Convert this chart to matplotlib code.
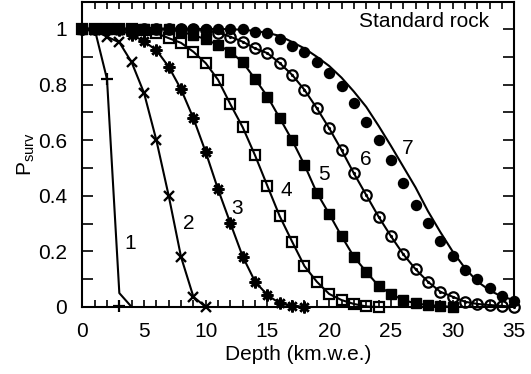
import numpy as np
import matplotlib
matplotlib.use("Agg")
import matplotlib.pyplot as plt

plt.rcParams['font.family'] = ['Liberation Sans', 'DejaVu Sans']
plt.rcParams['mathtext.fontset'] = 'custom'
plt.rcParams['mathtext.rm'] = 'Liberation Sans'

# ---- data (depth in km.w.e., survival probability) ----
d1 = [0, 1, 2, 3]
p1 = [1.0, 1.0, 0.82, 0.005]
d1_line = [0, 1, 2, 3, 4]
p1_line = [1.0, 1.0, 0.82, 0.05, 0.0]

d2 = list(range(0, 11))
p2 = [1.0, 0.995, 0.972, 0.952, 0.88, 0.77, 0.60, 0.40, 0.18, 0.037, 0.0]

d3 = list(range(0, 19))
p3 = [1.0, 1.0, 1.0, 0.995, 0.98, 0.955, 0.924, 0.864, 0.783, 0.679,
      0.557, 0.423, 0.301, 0.181, 0.091, 0.043, 0.013, 0.004, 0.001]

d4 = list(range(0, 25))
p4 = [1.0, 1.0, 1.0, 1.0, 1.0, 0.995, 0.985, 0.967, 0.95, 0.918,
      0.877, 0.817, 0.729, 0.646, 0.545, 0.435, 0.326, 0.235, 0.147, 0.091,
      0.047, 0.025, 0.011, 0.002, 0.0]

d5 = list(range(0, 31))
p5 = [1.0, 1.0, 1.0, 1.0, 1.0, 1.0, 1.0, 1.0, 0.99, 0.978,
      0.963, 0.942, 0.918, 0.88, 0.82, 0.757, 0.679, 0.60, 0.511, 0.411,
      0.335, 0.255, 0.181, 0.127, 0.076, 0.047, 0.025, 0.013, 0.007, 0.004, 0.0]

d6 = list(range(0, 36))
p6 = [1.0, 1.0, 1.0, 1.0, 1.0, 1.0, 1.0, 1.0, 1.0, 1.0,
      0.995, 0.987, 0.972, 0.954, 0.93, 0.913, 0.877, 0.835, 0.781, 0.715,
      0.643, 0.565, 0.481, 0.403, 0.325, 0.255, 0.19, 0.136, 0.091, 0.055,
      0.037, 0.019, 0.011, 0.007, 0.004, 0.0]

d7 = list(range(0, 36))
p7 = [1.0, 1.0, 1.0, 1.0, 1.0, 1.0, 1.0, 1.0, 1.0, 1.0,
      1.0, 1.0, 1.0, 1.0, 0.99, 0.985, 0.964, 0.94, 0.918, 0.882,
      0.843, 0.795, 0.735, 0.667, 0.60, 0.528, 0.445, 0.367, 0.301, 0.237,
      0.183, 0.134, 0.10, 0.068, 0.038, 0.022]
d7_line = list(range(0, 36))
p7_line = [1.0, 1.0, 1.0, 1.0, 1.0, 1.0, 1.0, 1.0, 1.0, 1.0,
           1.0, 1.0, 0.999, 0.997, 0.993, 0.986, 0.975, 0.953, 0.93, 0.90,
           0.867, 0.825, 0.775, 0.72, 0.652, 0.58, 0.505, 0.43, 0.345, 0.27,
           0.20, 0.14, 0.092, 0.06, 0.037, 0.025]

curve_labels = ['1', '2', '3', '4', '5', '6', '7']
label_x = [3.87, 8.59, 12.56, 16.56, 19.6, 22.99, 26.34]
label_y = [0.227, 0.299, 0.355, 0.418, 0.478, 0.529, 0.571]

xticks = [0, 5, 10, 15, 20, 25, 30, 35]
yticks = [0, 0.2, 0.4, 0.6, 0.8, 1.0]
ytick_labels = ['0', '0.2', '0.4', '0.6', '0.8', '1']

FS = 15

fig = plt.figure(figsize=(5.31, 3.74), dpi=100)
ax = fig.add_axes([82.3 / 531, 67 / 374, (514.3 - 82.3) / 531, (307 - 2) / 374])

lw = 1.5
k = 'black'
ax.plot(d1_line, p1_line, '-', color=k, lw=lw, zorder=2)
ax.plot(d1, p1, linestyle='none', marker='+', ms=8.5, mew=1.6, color=k,
        zorder=3, clip_on=False)

ax.plot(d2, p2, '-', color=k, lw=lw, zorder=2)
ax.plot(d2, p2, linestyle='none', marker='x', ms=7.5, mew=1.7, color=k,
        zorder=3, clip_on=False)
ax.plot(d3, p3, '-', color=k, lw=lw, zorder=2)
ax.plot(d3, p3, linestyle='none', marker=(8, 2, 0), ms=8.5, mew=1.8, color=k,
        zorder=3, clip_on=False)
ax.plot(d4, p4, '-', color=k, lw=lw, zorder=2)
ax.plot(d4, p4, linestyle='none', marker='s', ms=7, mew=1.6,
        mfc='none', mec=k, zorder=3, clip_on=False)
ax.plot(d5, p5, '-', color=k, lw=lw, zorder=2)
ax.plot(d5, p5, linestyle='none', marker='s', ms=6.5, mfc=k, mec=k,
        zorder=3, clip_on=False)
ax.plot(d6, p6, '-', color=k, lw=lw, zorder=2)
ax.plot(d6, p6, linestyle='none', marker='o', ms=7.5, mew=1.6,
        mfc='none', mec=k, zorder=3, clip_on=False)
ax.plot(d6, p6, linestyle='none', marker='.', ms=2.5, color=k, zorder=3,
        clip_on=False)
ax.plot(d7_line, p7_line, '-', color=k, lw=lw, zorder=2)
ax.plot(d7, p7, linestyle='none', marker='o', ms=7.2, mfc=k, mec=k,
        zorder=3, clip_on=False)

for t, x, y in zip(curve_labels, label_x, label_y):
    ax.text(x, y, t, fontsize=FS, ha='center', va='center')

ax.text(32.96, 1.026, 'Standard rock', fontsize=FS, ha='right', va='center')

ax.set_xlim(0, 35)
ax.set_ylim(0, 1.097)
ax.set_xticks(xticks)
ax.set_xticks(np.arange(0, 36, 1), minor=True)
ax.set_yticks(yticks)
ax.set_yticklabels(ytick_labels)
ax.set_yticks(np.arange(0, 1.05, 0.1), minor=True)

ax.tick_params(axis='x', which='both', direction='in', top=True, bottom=True,
               length=5, width=1.2, labelsize=FS, pad=11)
ax.tick_params(axis='y', which='both', direction='in', left=True, right=True,
               length=8, width=1.2, labelsize=FS, pad=11)

for s in ax.spines.values():
    s.set_linewidth(1.5)

ax.set_xlabel('Depth (km.w.e.)', fontsize=FS, labelpad=3)
ax.set_ylabel(r'P$_{\mathregular{surv}}$', fontsize=FS, labelpad=1)

fig.savefig('out.png', dpi=100)
